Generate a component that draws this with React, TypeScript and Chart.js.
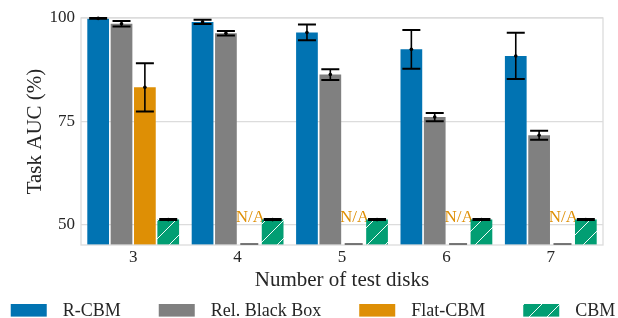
import React, { useEffect, useRef } from "react";
import { Chart, registerables } from "chart.js";

Chart.register(...registerables);

const categories = ["3", "4", "5", "6", "7"];
const seriesNames = ["R-CBM", "Rel. Black Box", "Flat-CBM", "CBM"];
const rcbmMean = [99.9, 99.05, 96.5, 92.4, 90.8];
const rcbmErr = [0.1, 0.5, 1.9, 4.7, 5.6];
const relBBMean = [98.6, 96.3, 86.3, 76.0, 71.6];
const relBBErr = [0.65, 0.55, 1.3, 1.0, 1.1];
const flatMean: (number | null)[] = [83.2, null, null, null, null];
const flatErr: (number | null)[] = [5.85, null, null, null, null];
const cbmMean = [51.15, 51.15, 51.15, 51.15, 51.15];
const cbmErr = [0.12, 0.12, 0.12, 0.12, 0.12];
const yTicks = [50, 75, 100];
const yMin = 45;
const yMax = 100;
const naText = "N/A";
const naLevel = 50;

const colors = ["#0173b2", "#808080", "#de8f05", "#029e73"];
const textColor = "#262626";
const gridColor = "#dcdcdc";
const FONT = "'Liberation Serif', 'DejaVu Serif', serif";

function makeHatch(bg: string): CanvasPattern | string {
  const c = document.createElement("canvas");
  const s = 18;
  c.width = s;
  c.height = s;
  const g = c.getContext("2d");
  if (!g) return bg;
  g.fillStyle = bg;
  g.fillRect(0, 0, s, s);
  g.strokeStyle = "rgba(255,255,255,0.95)";
  g.lineWidth = 1;
  g.beginPath();
  g.moveTo(-1, s + 1);
  g.lineTo(s + 1, -1);
  g.moveTo(-s / 2 - 1, s / 2 + 1);
  g.lineTo(s / 2 + 1, -s / 2 - 1);
  g.moveTo(s / 2 - 1, s * 1.5 + 1);
  g.lineTo(s * 1.5 + 1, s / 2 - 1);
  g.stroke();
  const p = g.createPattern(c, "repeat");
  return p || bg;
}

export default function App() {
  const ref = useRef<HTMLCanvasElement | null>(null);

  useEffect(() => {
    const canvas = ref.current;
    if (!canvas) return;
    const hatch = makeHatch(colors[3]);
    const means = [rcbmMean, relBBMean, flatMean, cbmMean];
    const errs = [rcbmErr, relBBErr, flatErr, cbmErr];
    const fills: any[] = [colors[0], colors[1], colors[2], hatch];

    const naPlugin = {
      id: "naLabels",
      beforeDatasetsDraw(chart: any) {
        const ctx = chart.ctx;
        const meta = chart.getDatasetMeta(2);
        const ys = chart.scales.y;
        ctx.save();
        ctx.font = `17px ${FONT}`;
        ctx.fillStyle = colors[2];
        ctx.textAlign = "center";
        ctx.textBaseline = "alphabetic";
        flatMean.forEach((v, j) => {
          if (v === null) {
            const el = meta.data[j];
            ctx.fillText(naText, el.x + 1, ys.getPixelForValue(naLevel) - 2.5);
          }
        });
        ctx.restore();
      },
    };

    const framePlugin = {
      id: "frameAndErrors",
      afterDatasetsDraw(chart: any) {
        const ctx = chart.ctx;
        const a = chart.chartArea;
        const ys = chart.scales.y;
        ctx.save();
        ctx.strokeStyle = gridColor;
        ctx.lineWidth = 1.3;
        ctx.strokeRect(a.left, a.top, a.right - a.left, a.bottom - a.top);
        ctx.restore();

        ctx.save();
        for (let i = 0; i < means.length; i++) {
          const meta = chart.getDatasetMeta(i);
          means[i].forEach((m, j) => {
            const el = meta.data[j];
            if (!el) return;
            const x = el.x;
            const half = 9;
            if (m === null || m === undefined) {
              ctx.strokeStyle = "#555555";
              ctx.lineWidth = 1.6;
              ctx.beginPath();
              ctx.moveTo(x - half, a.bottom - 1);
              ctx.lineTo(x + half, a.bottom - 1);
              ctx.stroke();
              return;
            }
            const e = errs[i][j] as number;
            const yt = ys.getPixelForValue(m + e);
            const yb = ys.getPixelForValue(m - e);
            const ym = ys.getPixelForValue(m);
            ctx.strokeStyle = "#000000";
            ctx.lineWidth = 1.6;
            ctx.beginPath();
            ctx.moveTo(x, yt);
            ctx.lineTo(x, yb);
            ctx.stroke();
            ctx.lineWidth = 2;
            ctx.beginPath();
            ctx.moveTo(x - half, yt);
            ctx.lineTo(x + half, yt);
            ctx.moveTo(x - half, yb);
            ctx.lineTo(x + half, yb);
            ctx.stroke();
            ctx.fillStyle = "#000000";
            ctx.beginPath();
            ctx.arc(x, ym, 1.8, 0, Math.PI * 2);
            ctx.fill();
          });
        }
        ctx.restore();
      },
    };

    const legendPlugin = {
      id: "customLegend",
      afterDraw(chart: any) {
        const ctx = chart.ctx;
        ctx.save();
        ctx.font = `18px ${FONT}`;
        const boxW = 36;
        const boxH = 12.6;
        const textGap = 16;
        const colGap = 38;
        const widths = seriesNames.map((n) => ctx.measureText(n).width);
        const total =
          widths.reduce((s, w) => s + boxW + textGap + w, 0) + colGap * (seriesNames.length - 1);
        let x = 313 - total / 2;
        const top = 304;
        seriesNames.forEach((n, i) => {
          ctx.fillStyle = fills[i];
          ctx.fillRect(x, top, boxW, boxH);
          ctx.fillStyle = textColor;
          ctx.textAlign = "left";
          ctx.textBaseline = "alphabetic";
          ctx.fillText(n, x + boxW + textGap, 315.5);
          x += boxW + textGap + widths[i] + colGap;
        });
        ctx.restore();
      },
    };

    Chart.defaults.font.family = FONT;

    const chart = new Chart(canvas, {
      type: "bar",
      data: {
        labels: categories,
        datasets: seriesNames.map((name, i) => ({
          label: name,
          data: means[i] as any,
          backgroundColor: fills[i],
          borderWidth: 0,
          barPercentage: 0.93,
          categoryPercentage: 0.895,
        })),
      },
      options: {
        animation: false,
        responsive: false,
        layout: { padding: { top: 18, right: 15, left: 0, bottom: 0 } },
        plugins: {
          legend: { display: false },
          tooltip: { enabled: false },
        },
        scales: {
          x: {
            grid: { display: false, drawTicks: false },
            border: { display: false },
            ticks: { color: textColor, font: { size: 17, family: FONT }, padding: 2 },
            title: {
              display: true,
              text: "Number of test disks",
              color: textColor,
              font: { size: 21, family: FONT },
              padding: { top: 0, bottom: 25 },
            },
            afterFit: (s: any) => {
              s.height = 73;
            },
          },
          y: {
            min: yMin,
            max: yMax,
            afterBuildTicks: (s: any) => {
              s.ticks = yTicks.map((v) => ({ value: v }));
            },
            grid: { color: gridColor, lineWidth: 1.3, drawTicks: false },
            border: { display: false },
            ticks: { color: textColor, font: { size: 17, family: FONT }, padding: 6 },
            title: {
              display: true,
              text: "Task AUC (%)",
              color: textColor,
              font: { size: 21, family: FONT },
              padding: { top: 23, bottom: 0 },
            },
            afterFit: (s: any) => {
              s.width = 81;
            },
          },
        },
      },
      plugins: [naPlugin, framePlugin, legendPlugin],
    });
    return () => chart.destroy();
  }, []);

  return (
    <div style={{ position: "fixed", left: 0, top: 0, width: 618, height: 318, background: "#fff" }}>
      <canvas ref={ref} width={618} height={318} style={{ display: "block" }} />
    </div>
  );
}
